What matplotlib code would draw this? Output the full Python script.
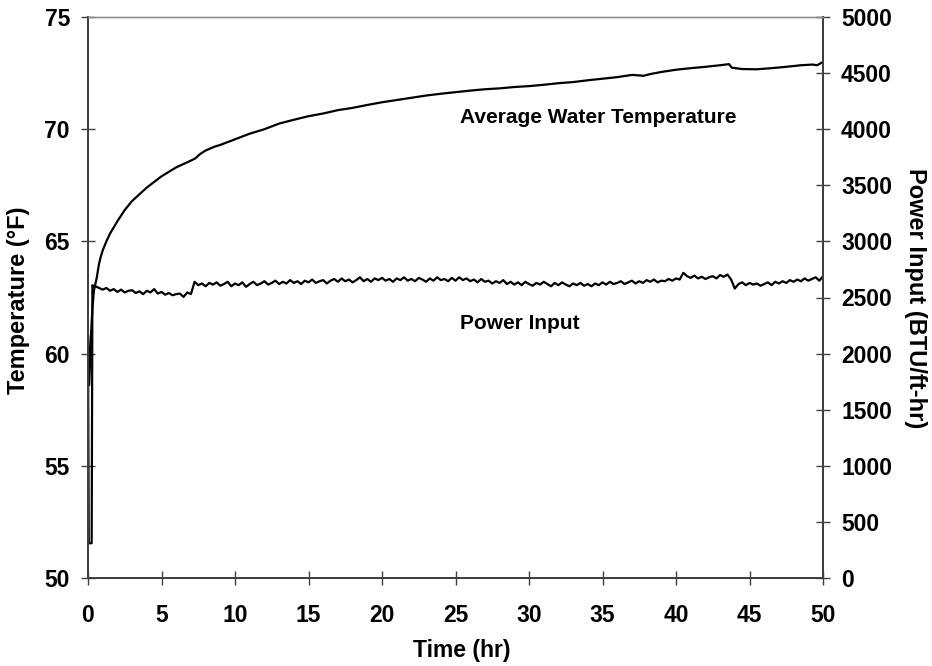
import numpy as np
import matplotlib

matplotlib.use("Agg")
import matplotlib.pyplot as plt

plt.rcParams["font.family"] = ["Liberation Sans", "DejaVu Sans"]
plt.rcParams["font.weight"] = "bold"

# ------------------------------------------------------------
# Data
# ------------------------------------------------------------

# Average water temperature (deg F) vs time (hr)
temp_time = [0.0, 0.08, 0.2, 0.3, 0.4, 0.5, 0.6, 0.75, 0.86, 1.0, 1.25, 1.5,
             2.0, 2.5, 3.0, 3.5, 4.0, 4.5, 5.0, 5.5, 6.0, 6.5, 7.0, 7.3,
             7.6, 8.0, 8.6, 9.0, 10.0, 11.0, 12.0, 13.0, 14.0, 15.0, 16.0,
             17.0, 18.0, 19.0, 20.0, 21.0, 22.0, 23.0, 24.0, 25.0, 26.0,
             27.0, 28.0, 29.0, 30.0, 31.0, 32.0, 33.0, 34.0, 35.0, 36.0,
             37.0, 37.8, 38.2, 39.0, 40.0, 41.0, 42.0, 43.0, 43.6, 43.8,
             44.5, 45.5, 46.5, 47.5, 48.5, 49.3, 49.6, 50.0]
temp_values = [60.8, 58.6, 60.8, 62.0, 62.8, 63.1, 63.4, 64.0, 64.3, 64.6,
               65.0, 65.35, 65.9, 66.4, 66.8, 67.1, 67.4, 67.65, 67.9, 68.1,
               68.3, 68.45, 68.6, 68.7, 68.88, 69.05, 69.22, 69.3, 69.55,
               69.8, 70.0, 70.25, 70.42, 70.58, 70.7, 70.85, 70.95, 71.08,
               71.2, 71.3, 71.4, 71.5, 71.58, 71.65, 71.72, 71.78, 71.82,
               71.88, 71.92, 71.98, 72.05, 72.1, 72.18, 72.25, 72.32, 72.42,
               72.38, 72.45, 72.55, 72.65, 72.72, 72.78, 72.85, 72.9, 72.74,
               72.68, 72.67, 72.72, 72.78, 72.85, 72.88, 72.85, 73.0]

# Power input (BTU/ft-hr): start-up transient, then every 0.25 hr from 0.5 hr
power_start_time = [0.0, 0.05, 0.25, 0.3, 0.4]
power_start_values = [2150, 310, 310, 2610, 2595]
power_values = [
    2600, 2585, 2570,
    2585, 2560, 2575, 2550, 2570, 2545, 2560, 2565,
    2540, 2555, 2530, 2560, 2545, 2575, 2535, 2550,
    2525, 2540, 2520, 2530, 2535, 2505, 2545, 2530,
    2640, 2610, 2625, 2600, 2630, 2615, 2635, 2605,
    2620, 2640, 2600, 2625, 2610, 2635, 2595, 2620,
    2640, 2610, 2625, 2645, 2615, 2630, 2650, 2620,
    2640, 2625, 2655, 2630, 2645, 2620, 2650, 2635,
    2660, 2630, 2645, 2655, 2625, 2650, 2665, 2640,
    2670, 2645, 2660, 2635, 2655, 2680, 2645, 2665,
    2640, 2670, 2655, 2675, 2650, 2665, 2640, 2670,
    2655, 2680, 2650, 2665, 2645, 2675, 2660, 2640,
    2670, 2650, 2680, 2655, 2665, 2645, 2675, 2650,
    2680, 2655, 2670, 2645, 2660, 2635, 2665, 2640,
    2650, 2625, 2645, 2630, 2655, 2620, 2640, 2615,
    2635, 2610, 2640, 2620, 2605, 2630, 2615, 2640,
    2620, 2600, 2630, 2610, 2635, 2615, 2600, 2625,
    2610, 2630, 2605, 2620, 2600, 2625, 2610, 2635,
    2615, 2640, 2620, 2630, 2645, 2620, 2635, 2650,
    2625, 2645, 2630, 2655, 2640, 2660, 2635, 2650,
    2645, 2665, 2650, 2670, 2660, 2720, 2690, 2675,
    2695, 2670, 2685, 2665, 2680, 2690, 2670, 2700,
    2685, 2705, 2660, 2580, 2620, 2635, 2610, 2630,
    2615, 2625, 2605, 2620, 2635, 2610, 2640, 2625,
    2645, 2630, 2655, 2640, 2660, 2645, 2670, 2650,
    2665, 2680, 2650, 2690,
]
power_time = np.arange(0.5, 50.001, 0.25)

temp_ticks = [50, 55, 60, 65, 70, 75]
power_ticks = [0, 500, 1000, 1500, 2000, 2500, 3000, 3500, 4000, 4500, 5000]
time_ticks = [0, 5, 10, 15, 20, 25, 30, 35, 40, 45, 50]

# ------------------------------------------------------------
# Figure
# ------------------------------------------------------------

W, H = 932, 666
fig = plt.figure(figsize=(W / 100, H / 100), dpi=100)
ax1 = fig.add_axes([88 / W, 1 - 578 / H, (823 - 88) / W, (578 - 17) / H])
ax2 = ax1.twinx()

ax1.plot(temp_time, temp_values, color="black", linewidth=1.6)
ax2.plot(power_start_time + list(power_time),
         power_start_values + power_values,
         color="black", linewidth=1.6)

ax1.set_xlim(0, 50)
ax1.set_ylim(50, 75)
ax2.set_ylim(0, 5000)
ax1.set_xticks(time_ticks)
ax1.set_yticks(temp_ticks)
ax2.set_yticks(power_ticks)

for ax in (ax1, ax2):
    ax.tick_params(direction="inout", length=10, width=1.0, color="#404040",
                   labelsize=16.5)
    for side in ("left", "right", "bottom"):
        ax.spines[side].set_color("#404040")
        ax.spines[side].set_linewidth(1.4)
    ax.spines["top"].set_color("#909090")
    ax.spines["top"].set_linewidth(1.0)

ax1.tick_params(axis="x", pad=14)
ax1.tick_params(axis="y", pad=8)
ax2.tick_params(axis="y", pad=8)

for lab in ax1.get_xticklabels() + ax1.get_yticklabels() + ax2.get_yticklabels():
    lab.set_fontweight("bold")

# axis titles placed by their centres in figure pixels
fig.text(462 / W, 1 - 650 / H, "Time (hr)", fontsize=16.5, fontweight="bold",
         ha="center", va="center")
fig.text(19 / W, 1 - 300 / H, "Temperature (°F)", fontsize=17,
         fontweight="bold", rotation=90, ha="center", va="center")
fig.text(915 / W, 1 - 298 / H, "Power Input (BTU/ft-hr)", fontsize=17,
         fontweight="bold", rotation=-90, ha="center", va="center")

ax1.text(34.7, 70.5, "Average Water Temperature", fontsize=15,
         fontweight="bold", ha="center", va="center")
ax1.text(25.3, 61.36, "Power Input", fontsize=15, fontweight="bold",
         ha="left", va="center")

fig.savefig("out.png", dpi=100)
